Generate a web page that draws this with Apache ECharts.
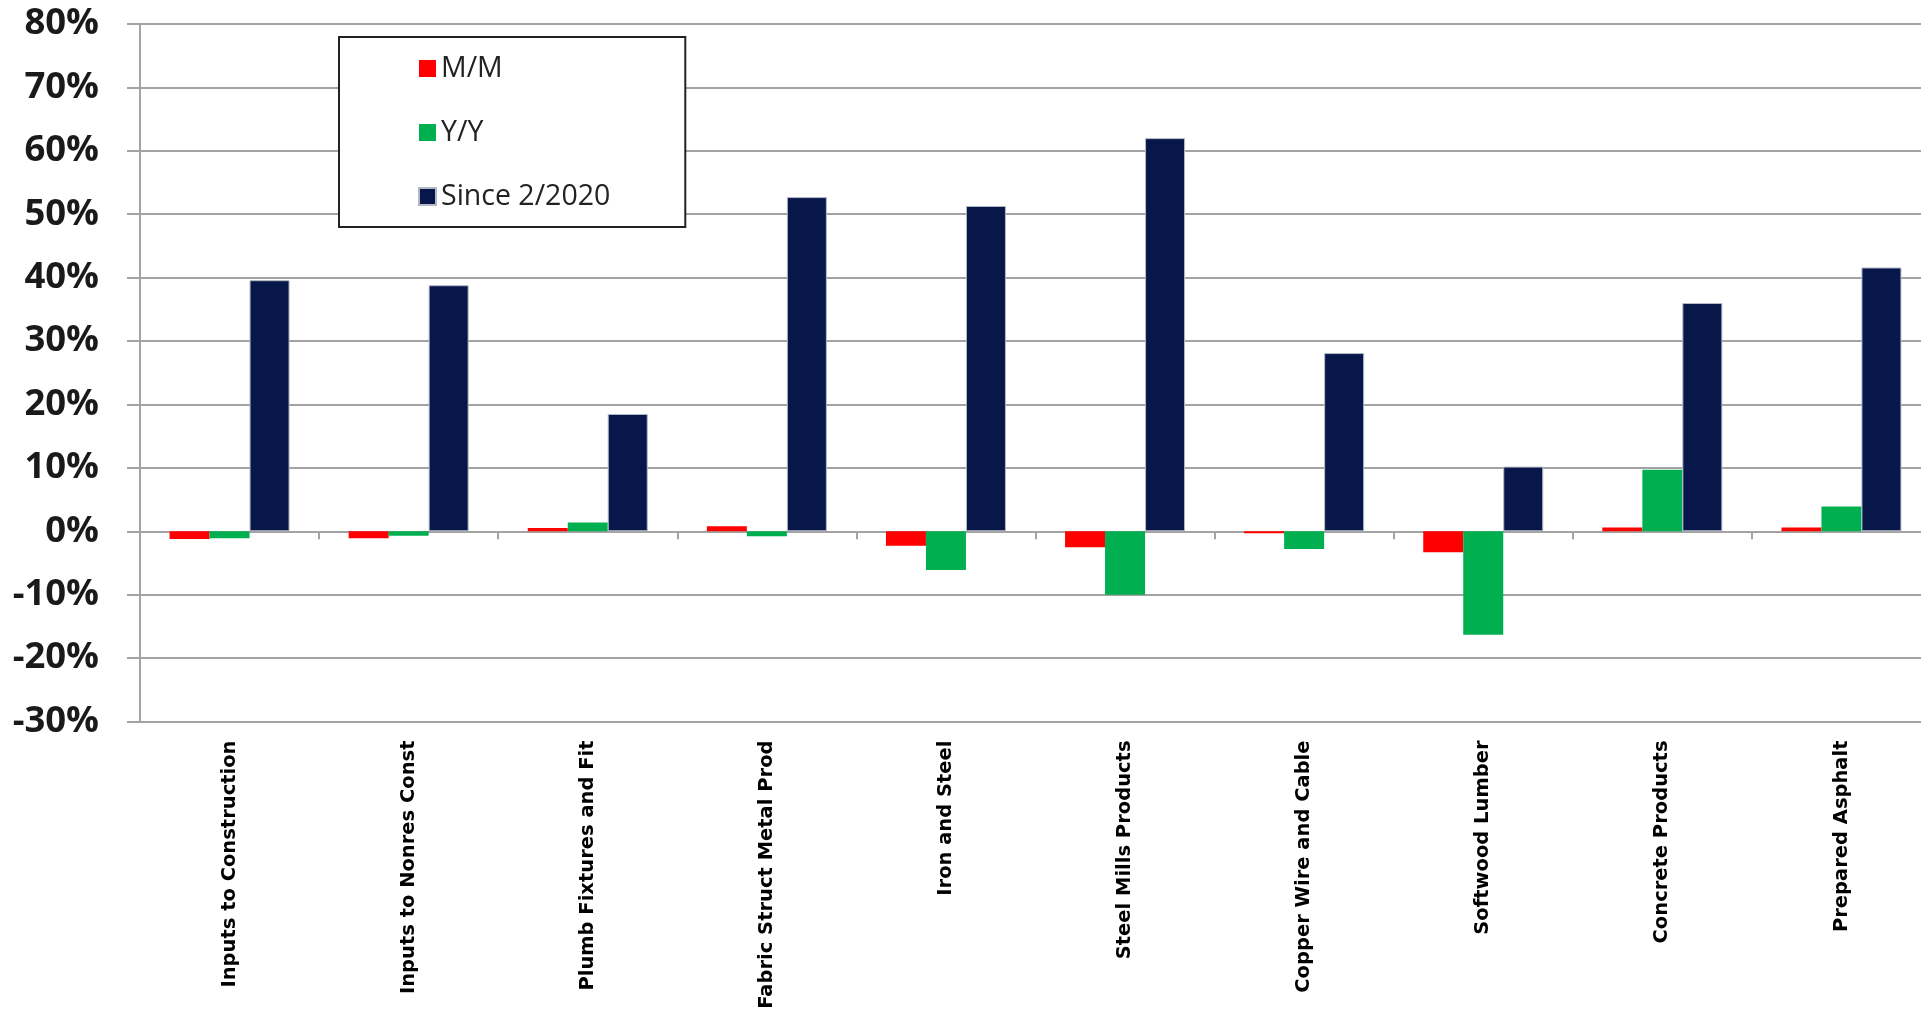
<!DOCTYPE html>
<html>
<head>
<meta charset="utf-8">
<script src="https://cdn.jsdelivr.net/npm/echarts@6/dist/echarts.min.js"></script>
<style>
  html, body { margin: 0; padding: 0; background: #ffffff; overflow: hidden; }
  #chart { width: 1921px; height: 1011px; }
</style>
</head>
<body>
<div id="chart"></div>
<script>
// Construction input prices, percent change
const categories = [
  'Inputs to Construction',
  'Inputs to Nonres Const',
  'Plumb Fixtures and Fit',
  'Fabric Struct Metal Prod',
  'Iron and Steel',
  'Steel Mills Products',
  'Copper Wire and Cable',
  'Softwood Lumber',
  'Concrete Products',
  'Prepared Asphalt'
];
const seriesNames = ['M/M', 'Y/Y', 'Since 2/2020'];
const monthOverMonth = [-1.2, -1.1, 0.5, 0.8, -2.3, -2.5, -0.3, -3.3, 0.6, 0.6];
const yearOverYear   = [-1.1, -0.7, 1.4, -0.8, -6.1, -10.0, -2.8, -16.3, 9.7, 3.9];
const sinceFeb2020   = [39.6, 38.8, 18.5, 52.7, 51.3, 62.0, 28.1, 10.2, 36.0, 41.6];
const yTicks = { min: -30, max: 80, interval: 10 };

const gridGray = '#a3a3a3';
const colors = ['#ff0000', '#00b050', '#08174a'];

const chart = echarts.init(document.getElementById('chart'));

chart.setOption({
  backgroundColor: '#ffffff',
  animation: false,
  color: colors,
  // the plot runs slightly past the right edge of the canvas
  grid: {
    left: 140, width: 1791, top: 24, height: 697.5,
    containLabel: false, outerBoundsMode: 'none'
  },
  legend: {
    orient: 'vertical',
    left: 339,
    top: 37,
    padding: [17, 75, 16, 79],
    itemWidth: 17,
    itemHeight: 17,
    itemGap: 35,
    icon: 'rect',
    selectedMode: false,
    backgroundColor: '#ffffff',
    borderColor: '#222222',
    borderWidth: 2,
    textStyle: { fontFamily: 'Open Sans', fontSize: 28.5, lineHeight: 26, color: '#222222' },
    data: seriesNames
  },
  xAxis: [
    {
      type: 'category',
      data: categories,
      position: 'bottom',
      axisLine: { show: false, onZero: false },
      axisTick: { show: false },
      splitLine: { show: false },
      axisLabel: {
        rotate: 90,
        margin: 19,
        interval: 0,
        fontFamily: 'DejaVu Sans',
        fontWeight: 'bold',
        fontSize: 19.5,
        color: '#000000'
      }
    },
    {
      // zero line with category boundary ticks
      type: 'category',
      data: categories,
      position: 'top',
      axisLine: { show: true, onZero: true, lineStyle: { color: gridGray, width: 2 } },
      axisTick: { show: true, inside: true, length: 8, lineStyle: { color: gridGray, width: 2 } },
      axisLabel: { show: false },
      splitLine: { show: false }
    }
  ],
  yAxis: {
    type: 'value',
    min: yTicks.min,
    max: yTicks.max,
    interval: yTicks.interval,
    axisLine: { show: true, lineStyle: { color: gridGray, width: 2 } },
    axisTick: { show: true, length: 13, lineStyle: { color: gridGray, width: 2 } },
    splitLine: { show: true, lineStyle: { color: gridGray, width: 2 } },
    axisLabel: {
      formatter: '{value}%',
      margin: 41,
      fontFamily: 'Open Sans',
      fontWeight: 'bold',
      fontSize: 36.5,
      color: '#1a1a1a'
    }
  },
  series: [
    {
      name: seriesNames[0],
      type: 'bar',
      xAxisIndex: 0,
      data: monthOverMonth,
      barGap: '0%',
      barCategoryGap: '33%',
      itemStyle: { color: colors[0] }
    },
    {
      name: seriesNames[1],
      type: 'bar',
      xAxisIndex: 0,
      data: yearOverYear,
      barGap: '0%',
      barCategoryGap: '33%',
      itemStyle: { color: colors[1] }
    },
    {
      name: seriesNames[2],
      type: 'bar',
      xAxisIndex: 0,
      data: sinceFeb2020,
      barGap: '0%',
      barCategoryGap: '33%',
      itemStyle: { color: colors[2], borderColor: '#b4b8c6', borderWidth: 1 }
    }
  ]
});
</script>
</body>
</html>
